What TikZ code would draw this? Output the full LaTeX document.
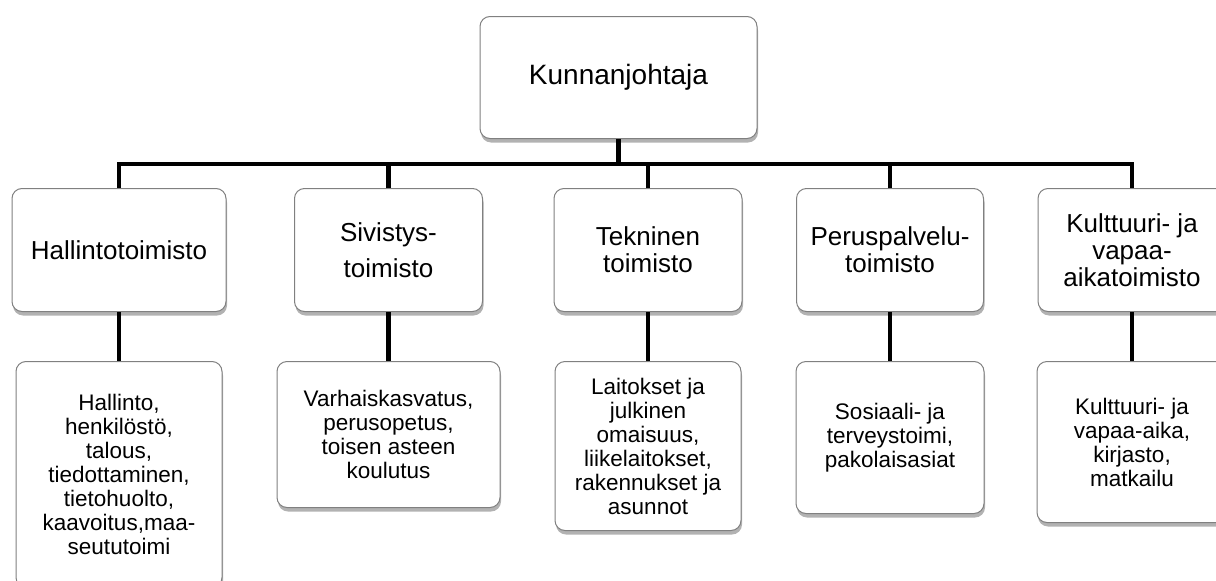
\documentclass[tikz,border=0pt]{standalone}
\usepackage{fontspec}
\setmainfont{Liberation Sans}
\usetikzlibrary{shadows}
\definecolor{boxgray}{RGB}{128,128,128}
\begin{document}
\begin{tikzpicture}[x=1pt,y=-1pt,
  box/.style={draw=boxgray, line width=1pt, fill=white, rounded corners=10pt,
    align=center, inner sep=0pt, anchor=north,
    drop shadow={shadow xshift=1pt, shadow yshift=-4pt, opacity=0.3, fill=black}},
  midbox/.style={box, minimum height=123pt, font=\fontsize{26}{27}\selectfont},
  lowbox/.style={box, font=\fontsize{22.5}{24}\selectfont},
  conn/.style={line width=4.5pt, draw=black}]
\clip (0,0) rectangle (1216,581);
\fill[white] (0,0) rectangle (1216,581);
% top
\node[box, minimum width=277pt, minimum height=122pt, font=\fontsize{28}{30}\selectfont] (k) at (618.5,16) {Kunnanjohtaja};
% middle row
\node[midbox, minimum width=214pt] (m1) at (119,188) {Hallintotoimisto};
\node[midbox, minimum width=188pt, font=\fontsize{26}{36}\selectfont] (m2) at (388.5,188) {Sivistys-\\toimisto};
\node[midbox, minimum width=188pt] (m3) at (648,188) {Tekninen\\toimisto};
\node[midbox, minimum width=187pt] (m4) at (890,188) {Peruspalvelu-\\toimisto};
\node[midbox, minimum width=188pt] (m5) at (1132,188) {Kulttuuri- ja\\vapaa-\\aikatoimisto};
% bottom row
\node[lowbox, minimum width=206pt, minimum height=226pt] (b1) at (119,361) {Hallinto,\\henkilöstö,\\talous,\\tiedottaminen,\\tietohuolto,\\kaavoitus,maa-\\seututoimi};
\node[lowbox, minimum width=223pt, minimum height=146pt] (b2) at (388.5,361) {Varhaiskasvatus,\\perusopetus,\\toisen asteen\\koulutus};
\node[lowbox, minimum width=186pt, minimum height=169pt] (b3) at (648,361) {Laitokset ja\\julkinen\\omaisuus,\\liikelaitokset,\\rakennukset ja\\asunnot};
\node[lowbox, minimum width=188pt, minimum height=152pt] (b4) at (890,361) {Sosiaali- ja\\terveystoimi,\\pakolaisasiat};
\node[lowbox, minimum width=190pt, minimum height=161pt] (b5) at (1132,361) {Kulttuuri- ja\\vapaa-aika,\\kirjasto,\\matkailu};
% connectors
\coordinate (bus) at (0,164);
\draw[conn] (k.south) -- (k.south |- bus);
\draw[conn] (m1.north) -- (m1.north |- bus) -- (m5.north |- bus) -- (m5.north);
\foreach \n in {m2,m3,m4} \draw[conn] (\n.north) -- (\n.north |- bus);
\foreach \i in {1,...,5} \draw[conn] (m\i.south) -- (b\i.north);
\end{tikzpicture}
\end{document}
